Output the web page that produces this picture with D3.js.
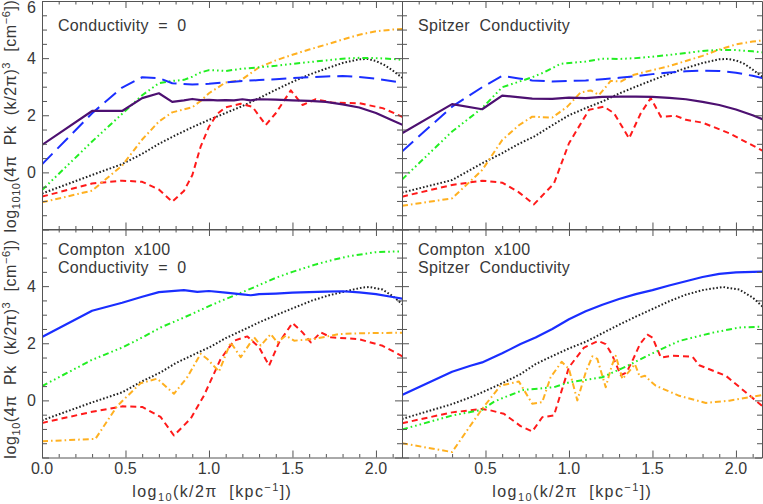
<!DOCTYPE html>
<html lang="en">
<head>
  <meta charset="UTF-8">
  <title>Power spectra</title>
  <script src="https://d3js.org/d3.v7.min.js"></script>
  <style>
    html, body { margin: 0; padding: 0; background: #fff; }
    text { font-family: "Liberation Sans", Arial, sans-serif; fill: #383838; white-space: pre; }
  </style>
</head>
<body>
<script>
  const width = 763;
  const height = 504;

  // [log10(k/2pi), log10(4 pi Pk (k/2pi)^3)]
  // top left: Conductivity = 0
  const tlPurple = [[0,0.96],[0.30,2.15],[0.48,2.15],[0.60,2.6],[0.70,2.77],[0.78,2.47],[0.85,2.52],[0.90,2.57],[0.95,2.53],[1.0,2.54],[1.05,2.52],[1.1,2.53],[1.15,2.52],[1.2,2.56],[1.25,2.52],[1.3,2.56],[1.4,2.55],[1.5,2.52],[1.6,2.5],[1.7,2.47],[1.8,2.38],[1.9,2.27],[2.0,2.08],[2.1,1.82],[2.16,1.66]];
  const tlBlue = [[0,0.28],[0.30,2.07],[0.48,2.97],[0.60,3.33],[0.70,3.3],[0.78,3.12],[0.9,3.08],[1.0,3.1],[1.1,3.15],[1.2,3.2],[1.3,3.23],[1.4,3.26],[1.5,3.3],[1.6,3.33],[1.7,3.36],[1.8,3.37],[1.9,3.34],[2.0,3.28],[2.1,3.19],[2.16,3.13]];
  const tlGreen = [[0,-0.62],[0.30,1.08],[0.48,2.05],[0.60,2.7],[0.70,3.12],[0.78,3.2],[0.85,3.24],[0.90,3.35],[0.95,3.5],[1.0,3.58],[1.05,3.57],[1.1,3.55],[1.2,3.63],[1.3,3.68],[1.4,3.73],[1.5,3.8],[1.6,3.86],[1.7,3.92],[1.8,3.98],[1.9,4.01],[2.0,4.0],[2.1,3.97],[2.16,3.94]];
  const tlOrange = [[0,-1.05],[0.30,-0.64],[0.48,0.24],[0.60,1.15],[0.70,1.78],[0.78,2.1],[0.90,2.28],[0.95,2.5],[1.0,2.77],[1.1,3.15],[1.19,3.22],[1.3,3.68],[1.4,3.92],[1.5,4.12],[1.6,4.3],[1.7,4.47],[1.8,4.65],[1.9,4.82],[2.0,4.94],[2.1,5.0],[2.16,5.02]];
  const tlBlack = [[0,-0.74],[0.30,-0.09],[0.48,0.29],[0.6,0.65],[0.7,1.0],[0.8,1.3],[0.9,1.58],[1.0,1.84],[1.1,2.08],[1.2,2.32],[1.3,2.6],[1.4,2.89],[1.5,3.17],[1.6,3.42],[1.7,3.63],[1.8,3.83],[1.9,3.96],[1.95,3.97],[2.0,3.9],[2.05,3.76],[2.1,3.57],[2.16,3.3]];
  const tlRed = [[0,-0.85],[0.30,-0.39],[0.48,-0.29],[0.60,-0.33],[0.70,-0.6],[0.78,-1.03],[0.85,-0.65],[0.90,-0.1],[0.95,0.9],[1.0,1.6],[1.05,2.05],[1.1,2.28],[1.19,2.4],[1.26,2.3],[1.34,1.66],[1.4,2.07],[1.49,2.87],[1.56,2.36],[1.64,2.56],[1.74,2.44],[1.9,2.42],[2.04,2.25],[2.16,1.94]];

  // top right: Spitzer Conductivity
  const trPurple = [[0,1.37],[0.30,2.39],[0.48,2.21],[0.60,2.69],[0.78,2.58],[0.9,2.57],[1.0,2.62],[1.1,2.6],[1.2,2.64],[1.3,2.65],[1.4,2.65],[1.5,2.64],[1.6,2.61],[1.7,2.56],[1.8,2.47],[1.9,2.36],[2.0,2.2],[2.1,2.0],[2.16,1.86]];
  const trBlue = [[0,0.73],[0.30,2.3],[0.48,2.98],[0.60,3.38],[0.70,3.29],[0.78,3.22],[0.9,3.18],[1.0,3.2],[1.1,3.22],[1.2,3.26],[1.3,3.31],[1.4,3.37],[1.5,3.44],[1.6,3.5],[1.7,3.54],[1.8,3.56],[1.9,3.55],[2.0,3.49],[2.1,3.38],[2.16,3.3]];
  const trGreen = [[0,-0.25],[0.30,1.43],[0.48,2.25],[0.60,2.98],[0.78,3.33],[0.85,3.5],[0.95,3.8],[1.1,3.88],[1.2,3.98],[1.3,3.97],[1.4,4.0],[1.5,4.05],[1.6,4.11],[1.7,4.18],[1.8,4.25],[1.9,4.29],[2.0,4.28],[2.1,4.24],[2.16,4.2]];
  const trOrange = [[0,-1.17],[0.30,-0.91],[0.48,0.08],[0.60,1.13],[0.70,1.65],[0.78,1.95],[0.90,1.92],[0.99,2.3],[1.07,2.8],[1.13,2.87],[1.18,2.71],[1.25,3.2],[1.31,3.18],[1.39,3.42],[1.5,3.58],[1.6,3.72],[1.7,3.9],[1.8,4.08],[1.9,4.3],[2.0,4.48],[2.1,4.58],[2.16,4.62]];
  const trBlack = [[0,-0.71],[0.30,-0.27],[0.48,0.32],[0.6,0.67],[0.7,1.0],[0.79,1.25],[0.9,1.65],[1.0,2.0],[1.1,2.25],[1.2,2.48],[1.3,2.76],[1.4,3.0],[1.5,3.23],[1.6,3.45],[1.7,3.65],[1.8,3.83],[1.9,3.96],[1.95,3.97],[2.0,3.92],[2.05,3.8],[2.1,3.6],[2.16,3.34]];
  const trRed = [[0,-0.85],[0.30,-0.44],[0.48,-0.29],[0.60,-0.36],[0.70,-0.7],[0.79,-1.12],[0.91,-0.39],[1.0,1.02],[1.12,2.19],[1.21,2.3],[1.27,2.07],[1.36,1.19],[1.43,2.07],[1.49,2.6],[1.55,1.95],[1.64,1.98],[1.70,1.84],[1.8,1.74],[1.96,1.37],[2.16,0.76]];

  // bottom left: Compton x100, Conductivity = 0
  const blBlue = [[0,2.22],[0.30,3.14],[0.48,3.42],[0.60,3.63],[0.70,3.79],[0.85,3.86],[0.93,3.8],[1.0,3.83],[1.1,3.77],[1.2,3.71],[1.25,3.68],[1.3,3.72],[1.4,3.74],[1.5,3.77],[1.6,3.79],[1.7,3.81],[1.8,3.82],[1.9,3.78],[2.0,3.72],[2.1,3.62],[2.16,3.56]];
  const blGreen = [[0,0.5],[0.30,1.42],[0.48,1.85],[0.6,2.2],[0.71,2.55],[0.85,2.9],[1.0,3.3],[1.1,3.55],[1.23,3.86],[1.4,4.29],[1.5,4.5],[1.64,4.76],[1.75,4.93],[1.84,5.05],[2.0,5.19],[2.16,5.22]];
  const blOrange = [[0,-1.43],[0.32,-1.35],[0.45,-0.2],[0.59,0.6],[0.69,0.76],[0.79,0.23],[0.87,0.81],[0.95,1.63],[0.99,1.45],[1.06,1.01],[1.13,2.03],[1.19,1.51],[1.27,2.21],[1.31,1.92],[1.37,2.32],[1.41,2.03],[1.46,2.27],[1.51,2.09],[1.63,2.15],[1.78,2.32],[1.9,2.35],[2.16,2.37]];
  const blBlack = [[0,-0.7],[0.30,-0.07],[0.48,0.28],[0.59,0.64],[0.71,0.98],[0.8,1.3],[0.9,1.58],[1.0,1.85],[1.1,2.18],[1.2,2.45],[1.3,2.73],[1.4,2.98],[1.5,3.22],[1.62,3.5],[1.72,3.68],[1.84,3.85],[1.92,3.95],[1.96,3.97],[2.04,3.88],[2.1,3.65],[2.16,3.36]];
  const blRed = [[0,-0.79],[0.30,-0.4],[0.48,-0.21],[0.60,-0.23],[0.71,-0.58],[0.79,-1.23],[0.89,-0.64],[0.97,0.17],[1.07,1.45],[1.15,2.09],[1.23,2.24],[1.3,1.86],[1.36,1.22],[1.42,2.03],[1.5,2.71],[1.56,2.38],[1.61,2.03],[1.67,2.38],[1.73,2.21],[1.9,2.14],[2.04,1.91],[2.16,1.54]];

  // bottom right: Compton x100, Spitzer Conductivity
  const brBlue = [[0,0.19],[0.30,1.0],[0.41,1.21],[0.48,1.33],[0.6,1.65],[0.71,1.97],[0.8,2.2],[0.9,2.5],[1.0,2.84],[1.1,3.12],[1.2,3.35],[1.3,3.55],[1.4,3.72],[1.5,3.86],[1.6,4.02],[1.7,4.17],[1.8,4.32],[1.9,4.43],[2.0,4.48],[2.16,4.51]];
  const brBlack = [[0,-0.65],[0.30,-0.13],[0.41,0.11],[0.48,0.28],[0.6,0.6],[0.71,0.92],[0.8,1.27],[0.9,1.55],[1.0,1.82],[1.1,2.05],[1.2,2.35],[1.3,2.65],[1.4,2.93],[1.5,3.2],[1.6,3.47],[1.7,3.7],[1.8,3.86],[1.92,3.97],[2.02,3.88],[2.1,3.6],[2.16,3.28]];
  const brGreen = [[0,-1.02],[0.30,-0.53],[0.48,-0.33],[0.55,-0.05],[0.61,0.1],[0.73,0.37],[0.91,0.46],[1.0,0.63],[1.2,0.81],[1.35,1.21],[1.49,1.62],[1.66,2.08],[1.86,2.37],[2.02,2.55],[2.16,2.58]];
  const brRed = [[0,-0.8],[0.30,-0.42],[0.48,-0.3],[0.53,-0.35],[0.61,-0.47],[0.71,-0.9],[0.78,-1.09],[0.84,-0.59],[0.91,-0.53],[0.956,0.34],[1.0,1.16],[1.09,1.85],[1.175,2.08],[1.22,1.97],[1.256,1.62],[1.31,0.88],[1.345,0.98],[1.385,1.45],[1.425,1.97],[1.47,2.3],[1.5,2.2],[1.55,1.5],[1.62,1.56],[1.74,1.53],[1.78,1.23],[1.94,0.86],[2.16,-0.21]];
  const brOrange = [[0,-1.5],[0.30,-1.81],[0.41,-0.88],[0.48,-0.3],[0.59,0.52],[0.70,0.66],[0.78,-0.12],[0.84,-0.06],[0.89,0.81],[0.956,1.35],[1.0,1.1],[1.05,0.0],[1.10,0.98],[1.14,1.54],[1.17,1.45],[1.22,0.46],[1.256,1.21],[1.28,1.56],[1.32,0.75],[1.355,0.98],[1.395,1.27],[1.425,0.81],[1.455,0.86],[1.485,0.69],[1.52,0.51],[1.66,0.16],[1.82,-0.09],[1.96,-0.01],[2.16,0.19]];

  const yMajor = [-2, 0, 2, 4, 6];
  const xMajor = [0, 0.5, 1.0, 1.5, 2.0];

  // line styles
  const sty = {
    purple: { color: "#4d1071", dash: null, w: 2.2 },
    blueDash: { color: "#1a2eff", dash: "15,7", w: 2 },
    blueSolid: { color: "#1a2eff", dash: null, w: 2.2 },
    green: { color: "#22ee22", dash: "6,3,1.6,3,1.6,3,1.6,3", w: 2 },
    orange: { color: "#ffb020", dash: "6,3,1.6,3", w: 2 },
    black: { color: "#222", dash: "1.6,2", w: 2 },
    red: { color: "#ff1a1a", dash: "6,4", w: 2 }
  };

  const panels = [
    { x0: 42, y0: 1, col: 0, row: 0, title: ["Conductivity  =  0"],
      series: [[tlBlack, "black"], [tlRed, "red"], [tlOrange, "orange"], [tlGreen, "green"], [tlBlue, "blueDash"], [tlPurple, "purple"]] },
    { x0: 402, y0: 1, col: 1, row: 0, title: ["Spitzer  Conductivity"],
      series: [[trBlack, "black"], [trRed, "red"], [trOrange, "orange"], [trGreen, "green"], [trBlue, "blueDash"], [trPurple, "purple"]] },
    { x0: 42, y0: 229, col: 0, row: 1, title: ["Compton  x100", "Conductivity  =  0"],
      series: [[blBlack, "black"], [blRed, "red"], [blOrange, "orange"], [blGreen, "green"], [blBlue, "blueSolid"]] },
    { x0: 402, y0: 229, col: 1, row: 1, title: ["Compton  x100", "Spitzer  Conductivity"],
      series: [[brBlack, "black"], [brRed, "red"], [brOrange, "orange"], [brGreen, "green"], [brBlue, "blueSolid"]] }
  ];
  const pw = 360, ph = 228.5;

  const svg = d3.select("body").append("svg")
    .attr("width", width)
    .attr("height", height);

  panels.forEach((p, i) => {
    const x = d3.scaleLinear().domain([0, 2.156]).range([p.x0, p.x0 + pw]);
    const y = d3.scaleLinear().domain([-2, 6]).range([p.y0 + ph, p.y0]);

    svg.append("clipPath").attr("id", "clip" + i)
      .append("rect").attr("x", p.x0).attr("y", p.y0).attr("width", pw).attr("height", ph);

    const g = svg.append("g").attr("clip-path", `url(#clip${i})`);
    const line = d3.line().x(d => x(d[0])).y(d => y(d[1]));
    p.series.forEach(([data, s]) => {
      const st = sty[s];
      g.append("path")
        .attr("d", line(data))
        .attr("fill", "none")
        .attr("stroke", st.color)
        .attr("stroke-width", st.w)
        .attr("stroke-dasharray", st.dash)
        .attr("stroke-linejoin", "round");
    });

    // axes, ticks pointing in
    const yTicks = d3.range(-2, 6.01, 0.5);
    const xTicks = d3.range(0, 2.156, 0.1);
    const ax = svg.append("g");
    const yt = v => (yMajor.includes(v) ? 7 : 5);
    const xt = v => (xMajor.some(m => Math.abs(m - v) < 1e-6) ? 7 : 3.5);

    ax.append("g").attr("transform", `translate(${p.x0},0)`)
      .call(d3.axisRight(y).tickValues(yTicks).tickSizeOuter(0).tickFormat(""))
      .call(a => a.selectAll(".tick line").attr("x2", d => yt(d)));
    ax.append("g").attr("transform", `translate(${p.x0 + pw},0)`)
      .call(d3.axisLeft(y).tickValues(yTicks).tickSizeOuter(0).tickFormat(""))
      .call(a => a.selectAll(".tick line").attr("x2", d => -yt(d)));
    ax.append("g").attr("transform", `translate(0,${p.y0 + ph})`)
      .call(d3.axisTop(x).tickValues(xTicks).tickSizeOuter(0).tickFormat(""))
      .call(a => a.selectAll(".tick line").attr("y2", d => -xt(d)));
    ax.append("g").attr("transform", `translate(0,${p.y0})`)
      .call(d3.axisBottom(x).tickValues(xTicks).tickSizeOuter(0).tickFormat(""))
      .call(a => a.selectAll(".tick line").attr("y2", d => xt(d)));
    ax.selectAll("path.domain").attr("stroke", "#555");
    ax.selectAll(".tick line").attr("stroke", "#555");

    // tick labels
    if (p.col === 0) {
      const labs = p.row === 0 ? [0, 2, 4, 6] : [0, 2, 4];
      svg.append("g").selectAll("text").data(labs).join("text")
        .attr("x", p.x0 - 6)
        .attr("y", d => Math.max(y(d) + 5.8, 13))
        .attr("text-anchor", "end")
        .attr("font-size", 16)
        .text(d => d);
    }
    if (p.row === 1) {
      const labs = p.col === 0 ? xMajor : xMajor.slice(1);
      svg.append("g").selectAll("text").data(labs).join("text")
        .attr("x", d => x(d))
        .attr("y", 473.5)
        .attr("text-anchor", "middle")
        .attr("font-size", 16)
        .text(d => d3.format(".1f")(d));

      const xl = svg.append("text")
        .attr("x", x(1.02))
        .attr("y", 497)
        .attr("text-anchor", "middle")
        .attr("font-size", 16)
        .attr("letter-spacing", 1.4);
      xl.append("tspan").text("log");
      xl.append("tspan").attr("font-size", 11).attr("dy", 4).text("10");
      xl.append("tspan").attr("dy", -4).text("(k/2\u03c0  [kpc");
      xl.append("tspan").attr("font-size", 11).attr("dy", -6).text("\u22121");
      xl.append("tspan").attr("dy", 6).text("])");
    }

    // panel labels
    p.title.forEach((t, j) => {
      svg.append("text")
        .attr("x", p.x0 + 16)
        .attr("y", p.y0 + 30 + j * 17.5 - (p.row === 1 ? 4 : 0))
        .attr("font-size", 16)
        .attr("letter-spacing", 0.3)
        .text(t);
    });
  });

  // y axis titles
  function yTitle(cy, subs) {
    const t = svg.append("text")
      .attr("transform", `translate(16,${cy}) rotate(-90)`)
      .attr("text-anchor", "middle")
      .attr("font-size", 16)
      .attr("letter-spacing", 0.6);
    t.append("tspan").text("log");
    t.append("tspan").attr("font-size", 11).attr("dy", 4).text(subs);
    t.append("tspan").attr("dy", -4).text("(4\u03c0  Pk  (k/2\u03c0)");
    t.append("tspan").attr("font-size", 11).attr("dy", -6).text("3");
    t.append("tspan").attr("dy", 6).text("  [cm");
    t.append("tspan").attr("font-size", 11).attr("dy", -6).text("\u22126");
    t.append("tspan").attr("dy", 6).text("])");
  }
  yTitle(116, "1010");
  yTitle(349, "10");
</script>
</body>
</html>
